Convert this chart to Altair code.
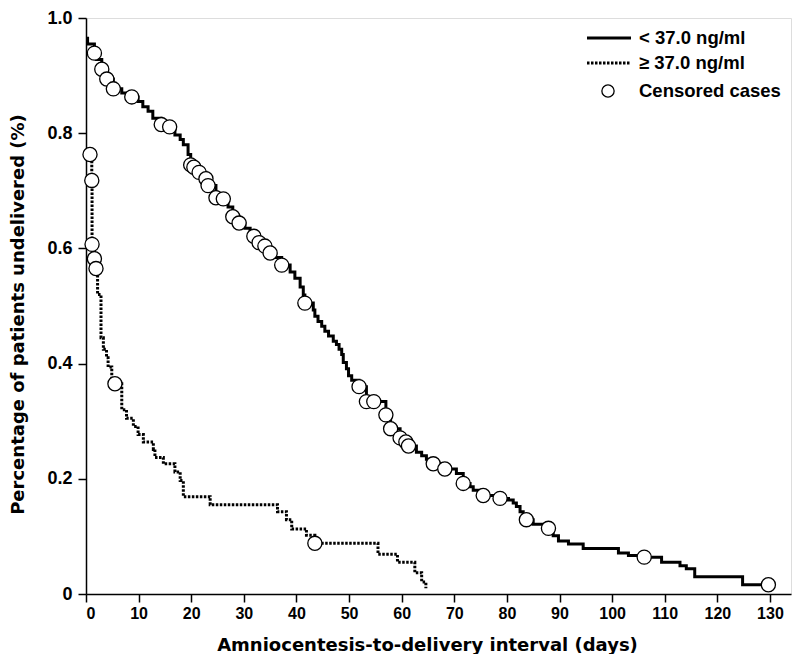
import altair as alt
import pandas as pd

# ---- data ----
solid_days = [0, 0.3, 1.6, 2.0, 3.0, 3.95, 5.2, 6.8, 8.7, 9.9, 10.8, 11.8, 12.7, 14.3, 15.9,
              16.9, 17.9, 18.5, 19.4, 19.9, 20.5, 21.5, 22.8, 23.2, 24.7, 26.1, 27.0, 27.9,
              29.1, 30.2, 31.2, 31.9, 32.9, 34.0, 35.0, 35.9, 37.2, 38.8, 39.7, 40.7, 41.3,
              41.6, 43.2, 43.5, 44.1, 44.8, 45.4, 46.1, 47.0, 47.6, 48.1, 48.6, 48.9, 49.5,
              49.9, 50.5, 51.9, 53.3, 54.7, 57.0, 57.9, 59.7, 60.8, 61.3, 62.8, 63.8, 64.7,
              66.0, 68.2, 70.4, 71.7, 73.0, 73.6, 75.5, 78.7, 80.3, 81.2, 81.8, 82.5, 83.1,
              83.7, 85.0, 87.9, 88.8, 89.8, 91.7, 94.5, 101.2, 103.1, 106.1, 109.4, 112.9,
              114.1, 115.7, 124.8, 129.7]
solid_surv = [0.965, 0.955, 0.939, 0.928, 0.911, 0.894, 0.877, 0.870, 0.863, 0.855, 0.846,
              0.838, 0.826, 0.815, 0.811, 0.797, 0.789, 0.780, 0.763, 0.745, 0.741, 0.732,
              0.721, 0.709, 0.688, 0.686, 0.672, 0.655, 0.644, 0.635, 0.626, 0.621, 0.610,
              0.604, 0.592, 0.584, 0.571, 0.559, 0.548, 0.533, 0.519, 0.505, 0.493, 0.482,
              0.473, 0.465, 0.456, 0.448, 0.439, 0.433, 0.425, 0.416, 0.402, 0.391, 0.379,
              0.371, 0.360, 0.334, 0.334, 0.311, 0.287, 0.271, 0.264, 0.257, 0.246, 0.240,
              0.234, 0.226, 0.217, 0.209, 0.192, 0.186, 0.180, 0.171, 0.166, 0.163, 0.158,
              0.152, 0.143, 0.135, 0.129, 0.121, 0.114, 0.101, 0.092, 0.087, 0.079, 0.071,
              0.067, 0.064, 0.055, 0.049, 0.044, 0.030, 0.016, 0.016]
solid_cens = [0, 0, 1, 0, 1, 1, 1, 0, 1, 0, 0, 0, 0, 1, 1, 0, 0, 0, 0, 1, 1, 1, 1, 1, 1, 1,
              0, 1, 1, 0, 0, 1, 1, 1, 1, 0, 1, 0, 0, 0, 0, 1, 0, 0, 0, 0, 0, 0, 0, 0, 0, 0,
              0, 0, 0, 0, 1, 1, 1, 1, 1, 1, 1, 1, 0, 0, 0, 1, 1, 0, 1, 0, 0, 1, 1, 0, 0, 0,
              0, 0, 1, 0, 1, 0, 0, 0, 0, 0, 0, 1, 0, 0, 0, 0, 0, 1]

dotted_days = [0, 0.76, 1.1, 1.15, 1.6, 1.9, 2.2, 2.85, 3.3, 3.9, 4.2, 4.9, 5.5, 6.8, 7.7,
               9.0, 9.9, 10.9, 12.8, 13.1, 14.7, 16.9, 17.9, 18.5, 23.6, 36.4, 38.1, 39.1,
               41.9, 43.5, 55.5, 59.2, 62.5, 63.8, 64.6]
dotted_surv = [0.763, 0.763, 0.718, 0.607, 0.582, 0.565, 0.52, 0.445, 0.425, 0.41, 0.394,
               0.365, 0.365, 0.32, 0.305, 0.291, 0.277, 0.264, 0.251, 0.237, 0.226, 0.212,
               0.197, 0.169, 0.155, 0.143, 0.129, 0.113, 0.102, 0.088, 0.069, 0.055, 0.037,
               0.021, 0.010]
dotted_cens = [0, 1, 1, 1, 1, 1, 0, 0, 0, 0, 0, 0, 1, 0, 0, 0, 0, 0, 0, 0, 0, 0, 0, 0, 0,
               0, 0, 0, 0, 1, 0, 0, 0, 0, 0]

x_ticks = list(range(0, 131, 10))
y_ticks = [0, 0.2, 0.4, 0.6, 0.8, 1.0]
legend_labels = ["< 37.0 ng/ml", "\u2265 37.0 ng/ml", "Censored cases"]

FONT = "Liberation Sans"
TFONT = "DejaVu Sans"

solid = pd.DataFrame({"days": solid_days, "surv": solid_surv, "cens": solid_cens})
dotted = pd.DataFrame({"days": dotted_days, "surv": dotted_surv, "cens": dotted_cens})
cens_all = pd.concat([solid[solid.cens == 1], dotted[dotted.cens == 1]])

xscale = alt.Scale(domain=[0, 134], nice=False, zero=False)
yscale = alt.Scale(domain=[0, 1], nice=False)

xaxis = alt.Axis(values=x_ticks, title="Amniocentesis-to-delivery interval (days)",
                 grid=False, labelFont=FONT, labelFontSize=16, labelFontWeight="bold",
                 labelColor="black", labelPadding=3, tickSize=8, tickWidth=1.5,
                 tickColor="black", domainColor="black", domainWidth=1.5,
                 titleFont=TFONT, titleFontSize=18, titleFontWeight="bold",
                 titleColor="black", titleX=341, titleY=51, titleBaseline="middle",
                 titleAnchor="middle")
yaxis = alt.Axis(values=y_ticks, title="Percentage of patients undelivered (%)",
                 grid=False, labelFont=FONT, labelFontSize=18, labelFontWeight="bold",
                 labelColor="black", labelPadding=6, tickSize=8, tickWidth=1.5,
                 tickColor="black", domainColor="black", domainWidth=1.5,
                 labelExpr="datum.value == 0 ? '0' : format(datum.value, '.1f')",
                 titleFont=TFONT, titleFontSize=18, titleFontWeight="bold",
                 titleColor="black", titleX=-68, titleY=296, titleBaseline="middle",
                 titleAnchor="middle", titleAngle=270)

line_solid = alt.Chart(solid).mark_line(
    interpolate="step-after", color="black", strokeWidth=3
).encode(
    x=alt.X("days:Q", scale=xscale, axis=xaxis),
    y=alt.Y("surv:Q", scale=yscale, axis=yaxis),
)

line_dotted = alt.Chart(dotted).mark_line(
    interpolate="step-after", color="black", strokeWidth=3, strokeDash=[2.5, 1.5]
).encode(
    x=alt.X("days:Q", scale=xscale),
    y=alt.Y("surv:Q", scale=yscale),
)

circles = alt.Chart(cens_all).mark_point(
    shape="circle", filled=True, fill="white", stroke="black", strokeWidth=1.3,
    size=200, opacity=1
).encode(
    x=alt.X("days:Q", scale=xscale),
    y=alt.Y("surv:Q", scale=yscale),
)

one = alt.Data(values=[{"k": 1}])
leg_solid = alt.Chart(one).mark_rule(color="black", strokeWidth=3).encode(
    x=alt.value(501), x2=alt.value(545), y=alt.value(20))
leg_dotted = alt.Chart(one).mark_rule(color="black", strokeWidth=3,
                                      strokeDash=[2.5, 1.5]).encode(
    x=alt.value(501), x2=alt.value(545), y=alt.value(45))
leg_circle = alt.Chart(one).mark_point(
    shape="circle", filled=True, fill="white", stroke="black", strokeWidth=1.3,
    size=150, opacity=1).encode(x=alt.value(522), y=alt.value(73))

def leg_text(label, y):
    return alt.Chart(one).mark_text(
        text=label, align="left", baseline="middle", font=FONT, fontSize=18.5,
        fontWeight="bold", color="black").encode(x=alt.value(553), y=alt.value(y))

chart = alt.layer(
    line_dotted, line_solid, circles,
    leg_solid, leg_dotted, leg_circle,
    leg_text(legend_labels[0], 20), leg_text(legend_labels[1], 45),
    leg_text(legend_labels[2], 73),
).properties(
    width=705, height=576,
    autosize=alt.AutoSizeParams(type="none"),
    padding={"left": 78, "top": 10, "right": 1, "bottom": 60},
).configure_view(strokeWidth=0).configure(background="white")

chart.save("out.html", embed_options={"renderer": "svg", "actions": False})
